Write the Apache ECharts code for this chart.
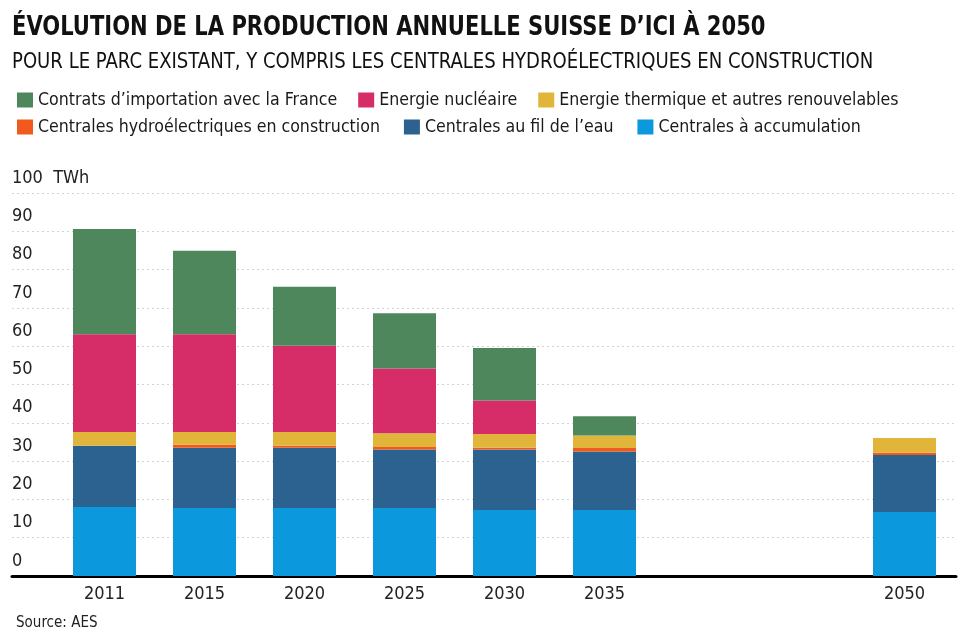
<!DOCTYPE html>
<html>
<head>
<meta charset="utf-8">
<script src="https://cdn.jsdelivr.net/npm/echarts@6/dist/echarts.min.js"></script>
<style>html,body{margin:0;padding:0;background:#fff;}#c{width:972px;height:641px;}</style>
</head>
<body>
<div id="c"></div>
<script>
var categories = ['2011', '2015', '2020', '2025', '2030', '2035', '', '', '2050'];
var yTicks = [0, 10, 20, 30, 40, 50, 60, 70, 80, 90, 100];
var accumulation = [18.0, 17.75, 17.75, 17.75, 17.2, 17.2, null, null, 16.7];
var filDeLEau = [16.0, 15.75, 15.75, 15.25, 15.8, 15.3, null, null, 14.9];
var hydroConstruction = [0, 0.8, 0.5, 0.7, 0.5, 0.9, null, null, 0.6];
var thermique = [3.6, 3.3, 3.6, 3.6, 3.6, 3.3, null, null, 3.8];
var nucleaire = [25.5, 25.5, 22.5, 16.9, 8.7, 0, null, null, 0];
var importFrance = [27.5, 21.8, 15.4, 14.4, 13.7, 5.0, null, null, 0];

var FONT = "'Liberation Sans Narrow', 'DejaVu Sans Condensed', 'Roboto', sans-serif";
var names = {
  imp: 'Contrats d\u2019importation avec la France',
  nuc: 'Energie nucléaire',
  the: 'Energie thermique et autres renouvelables',
  hyd: 'Centrales hydroélectriques en construction',
  fil: 'Centrales au fil de l\u2019eau',
  acc: 'Centrales à accumulation'
};
var colors = {
  imp: '#4f875c', nuc: '#d62c67', the: '#e0b53a',
  hyd: '#f15a1c', fil: '#2b6290', acc: '#0c98dc'
};

function bar(key, data) {
  return {
    name: names[key], type: 'bar', stack: 'total', data: data,
    xAxisIndex: 0, yAxisIndex: 0, barWidth: 63,
    itemStyle: { color: colors[key] }
  };
}

var chart = echarts.init(document.getElementById('c'), null, { renderer: 'canvas' });
var legendText = { fontFamily: FONT, fontSize: 17.6, color: '#1a1a1a' };
chart.setOption({
  animation: false,
  backgroundColor: '#fff',
  graphic: [
    { type: 'text', left: 12, top: 14, scaleX: 0.868,
      style: { text: 'ÉVOLUTION DE LA PRODUCTION ANNUELLE SUISSE D\u2019ICI À 2050',
        font: 'bold 27px ' + FONT, fill: '#111' } },
    { type: 'text', left: 12, top: 51, scaleX: 0.913,
      style: { text: 'POUR LE PARC EXISTANT, Y COMPRIS LES CENTRALES HYDROÉLECTRIQUES EN CONSTRUCTION',
        font: 'normal 22px ' + FONT, fill: '#111' } }
  ],
  title: [
    { text: 'Source: AES', left: 11, top: 611,
      textStyle: { fontFamily: FONT, fontWeight: 'normal', fontSize: 15, color: '#222' } }
  ],
  legend: [
    { left: 12, top: 86, itemWidth: 16, itemHeight: 15, itemGap: 21, icon: 'rect',
      data: [names.imp, names.nuc, names.the], textStyle: legendText, selectedMode: false },
    { left: 12, top: 113, itemWidth: 16, itemHeight: 15, itemGap: 24, icon: 'rect',
      data: [names.hyd, names.fil, names.acc], textStyle: legendText, selectedMode: false }
  ],
  grid: [
    { left: 54.5, right: 17.5, top: 193, bottom: 65 },
    { left: 12, right: 16, top: 193, bottom: 65 }
  ],
  xAxis: [
    { type: 'category', gridIndex: 0, data: categories,
      axisLine: { show: false }, axisTick: { show: false },
      axisLabel: { fontFamily: FONT, fontSize: 18, color: '#222', margin: 9, interval: 0 } },
    { type: 'value', gridIndex: 1, min: 0, max: 1,
      axisLine: { show: true, onZero: true, lineStyle: { color: '#000', width: 3 } },
      axisTick: { show: false }, axisLabel: { show: false }, splitLine: { show: false } }
  ],
  yAxis: [
    { type: 'value', gridIndex: 0, min: 0, max: 100, show: false },
    { type: 'value', gridIndex: 1, min: 0, max: 100, interval: 10,
      axisLine: { show: false }, axisTick: { show: false },
      splitLine: { show: true, lineStyle: { color: '#d2d2d2', width: 1, type: [2, 3] } },
      axisLabel: { inside: true, margin: 0, verticalAlign: 'bottom', padding: [0, 0, 6, 0],
        fontFamily: FONT, fontSize: 18, color: '#222',
        formatter: function (v) { return v === yTicks[yTicks.length - 1] ? v + '  TWh' : String(v); } } }
  ],
  series: [
    bar('acc', accumulation),
    bar('fil', filDeLEau),
    bar('hyd', hydroConstruction),
    bar('the', thermique),
    bar('nuc', nucleaire),
    bar('imp', importFrance)
  ]
});
</script>
</body>
</html>
